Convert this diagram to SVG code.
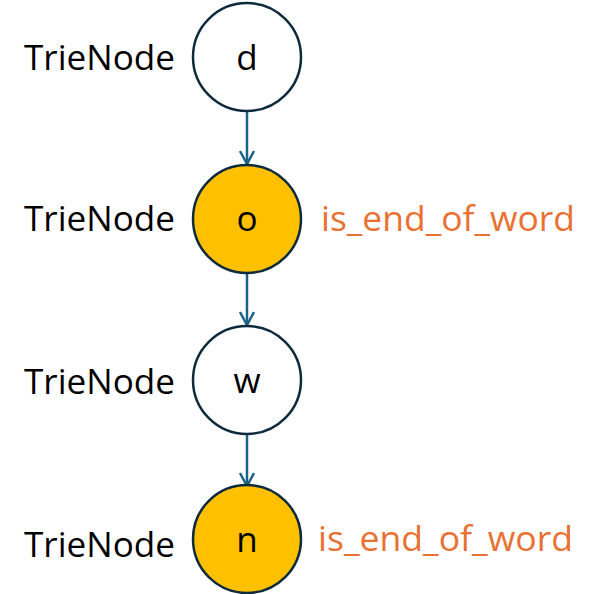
<svg xmlns="http://www.w3.org/2000/svg" width="601" height="594" viewBox="0 0 601 594">
<style>
.node{stroke:#0e2a3d;stroke-width:2.5}
.plain{fill:#ffffff}
.end{fill:#ffc000}
text{font-family:"Open Sans","Noto Sans","DejaVu Sans",sans-serif;font-size:35px;fill:#000}
.lbl{text-anchor:middle}
.flag{fill:#e97132}
.edge{stroke:#1b6289;stroke-width:2.5;fill:none}
</style>
<defs>
<marker id="arr" viewBox="0 0 16 16" refX="14" refY="8" markerWidth="16" markerHeight="16" markerUnits="userSpaceOnUse" orient="auto">
<path d="M1,1 L14,8 L1,15" fill="none" stroke="#1b6289" stroke-width="2.5"/>
</marker>
</defs>
<g id="connectors">
<line class="edge" x1="247" y1="111" x2="247" y2="164" marker-end="url(#arr)"/>
<line class="edge" x1="247" y1="273" x2="247" y2="325" marker-end="url(#arr)"/>
<line class="edge" x1="247" y1="434" x2="247" y2="486" marker-end="url(#arr)"/>
</g>
<g id="node-d">
<circle class="node plain" cx="247" cy="57" r="54"/>
<text class="lbl" x="247" y="70">d</text>
<text x="24" y="70" textLength="151" lengthAdjust="spacingAndGlyphs">TrieNode</text>
</g>
<g id="node-o">
<circle class="node end" cx="247" cy="219" r="54"/>
<text class="lbl" x="247" y="231">o</text>
<text x="24" y="231" textLength="151" lengthAdjust="spacingAndGlyphs">TrieNode</text>
<text class="flag" x="321" y="231" textLength="254" lengthAdjust="spacingAndGlyphs">is_end_of_word</text>
</g>
<g id="node-w">
<circle class="node plain" cx="247" cy="380" r="54"/>
<text class="lbl" x="247" y="393">w</text>
<text x="24" y="394" textLength="151" lengthAdjust="spacingAndGlyphs">TrieNode</text>
</g>
<g id="node-n">
<circle class="node end" cx="247" cy="539" r="54"/>
<text class="lbl" x="247" y="552">n</text>
<text x="24" y="557" textLength="151" lengthAdjust="spacingAndGlyphs">TrieNode</text>
<text class="flag" x="318" y="551" textLength="255" lengthAdjust="spacingAndGlyphs">is_end_of_word</text>
</g>
</svg>
